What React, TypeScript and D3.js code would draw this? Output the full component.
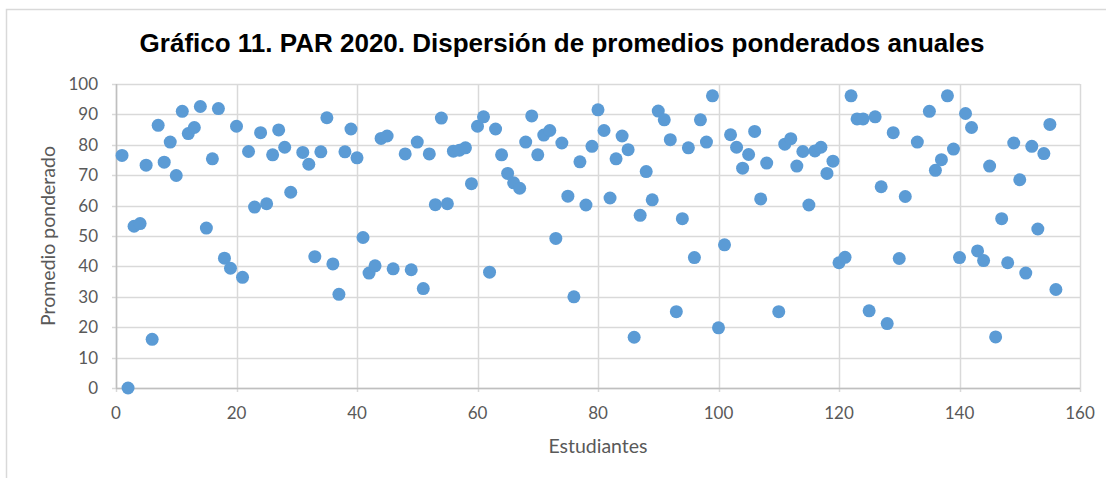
import React, { useRef, useEffect } from 'react';
import * as d3 from 'd3';

const estudiantes = [
  1, 2, 3, 4, 5, 6, 7, 8, 9, 10, 11, 12, 13, 14, 15, 16, 17, 18, 19, 20,
  21, 22, 23, 24, 25, 26, 27, 28, 29, 31, 32, 33, 34, 35, 36, 37, 38, 39, 40,
  41, 42, 43, 44, 45, 46, 48, 49, 50, 51, 52, 53, 54, 55, 56, 57, 58, 59, 60,
  61, 62, 63, 64, 65, 66, 67, 68, 69, 70, 71, 72, 73, 74, 75, 76, 77, 78, 79, 80,
  81, 82, 83, 84, 85, 86, 87, 88, 89, 90, 91, 92, 93, 94, 95, 96, 97, 98, 99, 100,
  101, 102, 103, 104, 105, 106, 107, 108, 110, 111, 112, 113, 114, 115, 116, 117, 118, 119, 120,
  121, 122, 123, 124, 125, 126, 127, 128, 129, 130, 131, 133, 135, 136, 137, 138, 139, 140,
  141, 142, 143, 144, 145, 146, 147, 148, 149, 150, 151, 152, 153, 154, 155, 156,
];

const promedios = [
  76.5, 0, 53.2, 54.1, 73.3, 16, 86.4, 74.3, 80.9, 69.9, 91, 83.7, 85.7, 92.6, 52.6, 75.4, 91.9, 42.7, 39.4, 86.1,
  36.4, 77.8, 59.5, 84, 60.6, 76.7, 84.9, 79.2, 64.4, 77.5, 73.6, 43.2, 77.7, 88.9, 40.8, 30.8, 77.7, 85.2, 75.7,
  49.5, 37.8, 40.2, 82.1, 82.9, 39.2, 77, 38.9, 80.9, 32.7, 77, 60.3, 88.8, 60.6, 77.9, 78.2, 79, 67.2, 86.1,
  89.2, 38.1, 85.2, 76.7, 70.6, 67.5, 65.7, 80.9, 89.5, 76.7, 83.2, 84.7, 49.2, 80.6, 63.1, 30, 74.4, 60.2, 79.5, 91.5,
  84.7, 62.5, 75.4, 82.9, 78.4, 16.7, 56.8, 71.2, 61.9, 91.1, 88.2, 81.7, 25.1, 55.7, 79, 42.9, 88.2, 80.9, 96.1, 19.8,
  47.1, 83.3, 79.2, 72.3, 76.8, 84.4, 62.2, 74, 25.1, 80.2, 82, 73, 77.8, 60.2, 78, 79.2, 70.6, 74.6, 41.2,
  43, 96.1, 88.5, 88.5, 25.4, 89.2, 66.2, 21.2, 84, 42.6, 63, 80.9, 91, 71.6, 75.1, 96.1, 78.6, 42.9,
  90.3, 85.7, 45.1, 41.9, 73, 16.8, 55.7, 41.2, 80.6, 68.5, 37.8, 79.5, 52.3, 77.1, 86.7, 32.4,
];

const xTicks = [0, 20, 40, 60, 80, 100, 120, 140, 160];
const yTicks = [0, 10, 20, 30, 40, 50, 60, 70, 80, 90, 100];

const titulo = 'Gráfico 11. PAR 2020. Dispersión de promedios ponderados anuales';
const tituloX = 'Estudiantes';
const tituloY = 'Promedio ponderado';

const W = 1106;
const H = 478;

const App: React.FC = () => {
  const svgRef = useRef<SVGSVGElement | null>(null);

  useEffect(() => {
    const svg = d3.select(svgRef.current)
      .attr('width', W)
      .attr('height', H);

    const plot = { left: 116, right: 1080, top: 84, bottom: 388 };

    const x = d3.scaleLinear().domain([0, 160]).range([plot.left, plot.right]);
    const y = d3.scaleLinear().domain([0, 100]).range([plot.bottom, plot.top]);

    // marco exterior del gráfico
    svg.append('rect')
      .attr('x', 6.5)
      .attr('y', 9.5)
      .attr('width', W + 20)
      .attr('height', H + 20)
      .attr('fill', '#fff')
      .attr('stroke', '#d9d9d9')
      .attr('stroke-width', 1.5);

    svg.append('text')
      .attr('x', 562)
      .attr('y', 52)
      .attr('text-anchor', 'middle')
      .style('font-family', '"Liberation Sans", Arial, sans-serif')
      .style('font-weight', 'bold')
      .style('font-size', '26px')
      .attr('fill', '#000')
      .text(titulo);

    const grid = svg.append('g');
    grid.selectAll('line.h')
      .data(yTicks)
      .enter()
      .append('line')
      .attr('x1', plot.left - 4)
      .attr('x2', plot.right)
      .attr('y1', d => Math.round(y(d)) + 0.5)
      .attr('y2', d => Math.round(y(d)) + 0.5)
      .attr('stroke', '#d9d9d9')
      .attr('stroke-width', 1.5);

    grid.selectAll('line.v')
      .data(xTicks)
      .enter()
      .append('line')
      .attr('y1', plot.top)
      .attr('y2', plot.bottom + 4)
      .attr('x1', d => Math.round(x(d)) + 0.5)
      .attr('x2', d => Math.round(x(d)) + 0.5)
      .attr('stroke', '#d9d9d9')
      .attr('stroke-width', 1.5);

    // ejes
    svg.append('line')
      .attr('x1', plot.left + 0.5).attr('x2', plot.left + 0.5)
      .attr('y1', plot.top).attr('y2', plot.bottom + 0.5)
      .attr('stroke', '#bfbfbf').attr('stroke-width', 1.5);
    svg.append('line')
      .attr('x1', plot.left).attr('x2', plot.right)
      .attr('y1', plot.bottom + 0.5).attr('y2', plot.bottom + 0.5)
      .attr('stroke', '#bfbfbf').attr('stroke-width', 1.5);

    const labelStyle = (sel: any) => sel
      .style('font-family', 'Lato, "Open Sans", sans-serif')
      .style('font-size', '17px')
      .attr('fill', '#595959');

    svg.append('g').selectAll('text')
      .data(yTicks)
      .enter()
      .append('text')
      .attr('x', 98)
      .attr('y', d => y(d) + 6)
      .attr('text-anchor', 'end')
      .call(labelStyle)
      .text(d => d);

    svg.append('g').selectAll('text')
      .data(xTicks)
      .enter()
      .append('text')
      .attr('x', d => x(d))
      .attr('y', 419)
      .attr('text-anchor', 'middle')
      .call(labelStyle)
      .text(d => d);

    svg.append('text')
      .attr('x', (plot.left + plot.right) / 2)
      .attr('y', 453)
      .attr('text-anchor', 'middle')
      .style('font-family', 'Lato, "Open Sans", sans-serif')
      .style('font-size', '19.5px')
      .attr('fill', '#595959')
      .text(tituloX);

    svg.append('text')
      .attr('transform', `translate(55,${(plot.top + plot.bottom) / 2}) rotate(-90)`)
      .attr('text-anchor', 'middle')
      .style('font-family', 'Lato, "Open Sans", sans-serif')
      .style('font-size', '19.5px')
      .attr('fill', '#595959')
      .text(tituloY);

    svg.append('g')
      .selectAll('circle')
      .data(estudiantes)
      .enter()
      .append('circle')
      .attr('cx', d => x(d))
      .attr('cy', (d, i) => y(promedios[i]))
      .attr('r', 6.5)
      .attr('fill', '#5b9bd5');

    return () => {
      svg.selectAll('*').remove();
    };
  }, []);

  return <svg ref={svgRef} style={{ position: 'absolute', left: 0, top: 0 }}></svg>;
};

export default App;
